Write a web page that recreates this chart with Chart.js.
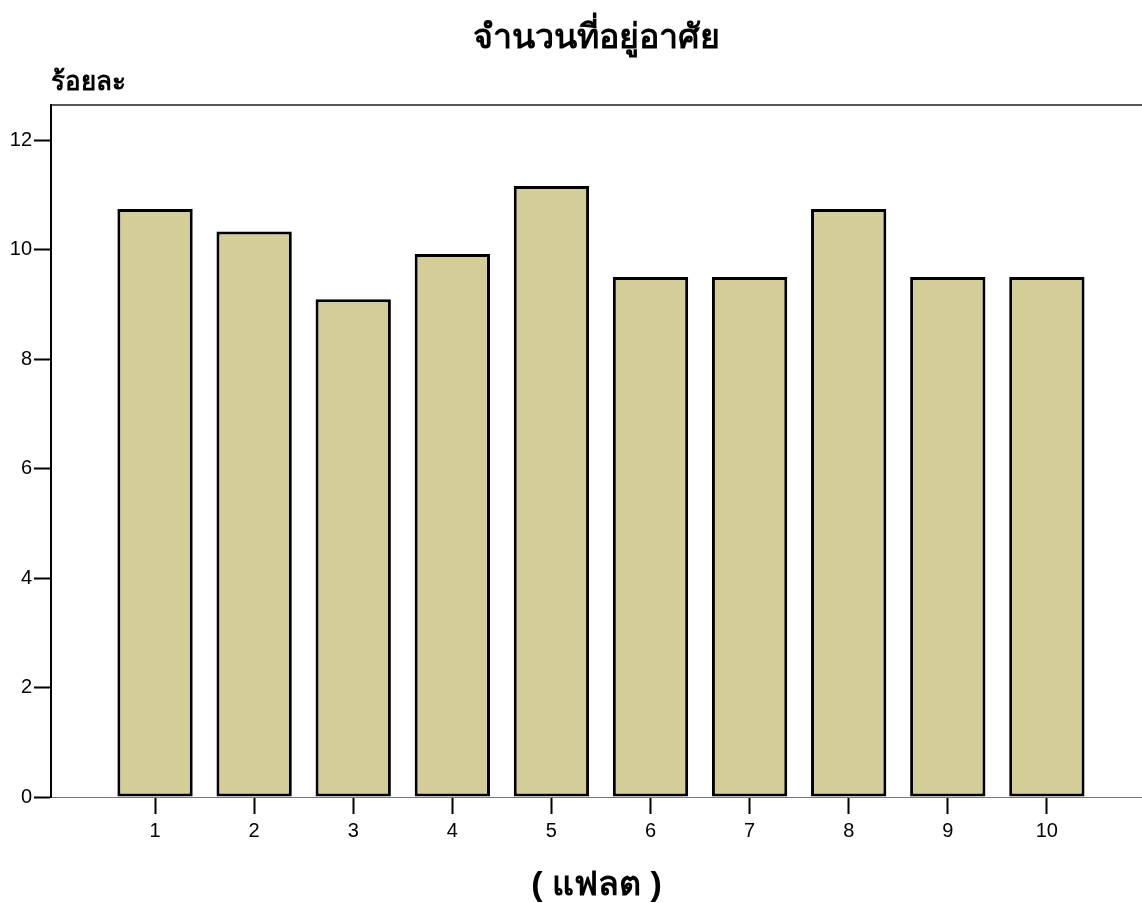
<!DOCTYPE html>
<html>
<head>
<meta charset="utf-8">
<script src="https://cdn.jsdelivr.net/npm/chart.js@4.4.1/dist/chart.umd.min.js"></script>
<style>
  html, body { margin: 0; padding: 0; background: #fff; }
  canvas { display: block; }
</style>
</head>
<body>
<canvas id="c" width="1142" height="903"></canvas>
<script>
// ---- data ----
const categories = [1, 2, 3, 4, 5, 6, 7, 8, 9, 10];
const xTickLabels = ['1', '2', '3', '4', '5', '6', '7', '8', '9', '10'];
const percents = [10.74, 10.33, 9.09, 9.92, 11.16, 9.50, 9.50, 10.74, 9.50, 9.50];
const yTickValues = [0, 2, 4, 6, 8, 10, 12];
const chartTitle = 'จำนวนที่อยู่อาศัย';
const yAxisLabel = 'ร้อยละ';
const xAxisLabel = '( แฟลต )';

const FONT = "'Liberation Sans', Arial, sans-serif";

const points = categories.map((c, i) => ({ x: c, y: percents[i] }));

new Chart(document.getElementById('c'), {
  type: 'bar',
  data: {
    datasets: [{
      data: points,
      backgroundColor: '#D3CE98',
      borderColor: '#000000',
      borderWidth: 3,
      borderSkipped: false,
      categoryPercentage: 1,
      barPercentage: 0.76
    }]
  },
  options: {
    responsive: false,
    animation: false,
    layout: { padding: 0 },
    plugins: {
      legend: { display: false },
      tooltip: { enabled: false },
      title: {
        display: true,
        text: chartTitle,
        fullSize: false,
        color: '#000',
        font: { family: FONT, size: 34, weight: 'bold', lineHeight: 1.2 },
        padding: { top: 18, bottom: 8 }
      },
      subtitle: {
        display: true,
        text: yAxisLabel,
        fullSize: false,
        align: 'start',
        color: '#000',
        font: { family: FONT, size: 26, weight: 'bold', lineHeight: 1.2 },
        padding: { top: 0, bottom: 7 }
      }
    },
    scales: {
      x: {
        type: 'linear',
        position: 'bottom',
        min: -0.05,
        max: 10.96,
        offset: false,
        afterBuildTicks: (s) => { s.ticks = categories.map(v => ({ value: v })); },
        afterFit: (s) => { s.height = 106; },
        ticks: {
          autoSkip: false,
          color: '#000',
          padding: 5,
          maxRotation: 0,
          font: { family: FONT, size: 20 },
          callback: (v, i) => xTickLabels[i]
        },
        grid: {
          display: true,
          offset: false,
          drawOnChartArea: false,
          drawTicks: true,
          tickLength: 17,
          tickWidth: 2,
          tickColor: '#000'
        },
        border: { display: true, color: '#777', width: 1 },
        title: {
          display: true,
          text: xAxisLabel,
          color: '#000',
          font: { family: FONT, size: 34, weight: 'bold', lineHeight: 1.0 },
          padding: { top: 0, bottom: 0 }
        }
      },
      xTop: {
        type: 'linear',
        position: 'top',
        display: true,
        min: -0.05,
        max: 10.96,
        ticks: { display: false },
        grid: { display: false, drawTicks: false },
        border: { display: true, color: '#555', width: 2 }
      },
      y: {
        type: 'linear',
        position: 'left',
        min: 0,
        max: 12.64,
        afterBuildTicks: (s) => { s.ticks = yTickValues.map(v => ({ value: v })); },
        afterFit: (s) => { s.width = 51; },
        ticks: {
          color: '#000',
          padding: 2,
          font: { family: FONT, size: 20 },
          callback: (v) => String(v)
        },
        grid: {
          display: true,
          drawOnChartArea: false,
          drawTicks: true,
          tickLength: 17,
          tickWidth: 2,
          tickColor: '#000'
        },
        border: { display: true, color: '#000', width: 2 }
      }
    }
  }
});
</script>
</body>
</html>
